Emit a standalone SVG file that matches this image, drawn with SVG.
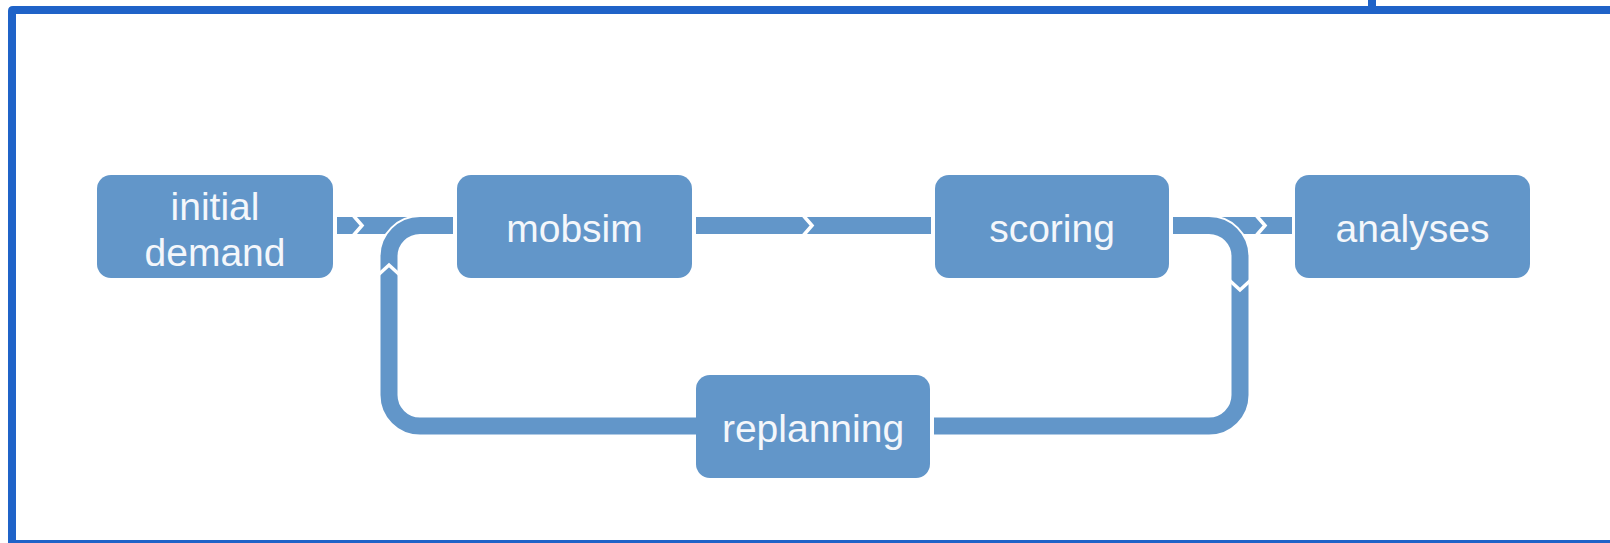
<svg xmlns="http://www.w3.org/2000/svg" width="1610" height="543" viewBox="0 0 1610 543">
<style>
.node{fill:#6296C9}
.lbl{fill:#F4F7FB;font-family:"Liberation Sans",Arial,sans-serif;font-size:39px;text-anchor:middle}
.band{fill:none;stroke:#6296C9;stroke-width:17;stroke-linecap:butt}
.halo{fill:none;stroke:#ffffff;stroke-width:21;stroke-linecap:butt}
.gap{fill:none;stroke:#ffffff;stroke-width:3.5;stroke-linejoin:miter;stroke-miterlimit:10}
.frame{fill:#1F63C8}
</style>
<rect width="1610" height="543" fill="#ffffff"/>
<g id="frame">
<path class="frame" d="M8,543 V11 Q8,6 13,6 H1610 V14 H16 V543 Z"/>
<rect class="frame" x="1368" y="0" width="8" height="7"/>
<rect class="frame" x="16" y="540" width="1594" height="3"/>
</g>
<g id="connectors">
<path class="band" d="M337,225.5 H430"/>
<path class="band" d="M1215,225.5 H1292"/>
<path class="band" d="M696,225.5 H931"/>
<path class="halo" d="M696,426 H420 A31,31 0 0 1 389,395 V256.5 A31,31 0 0 1 420,225.5 H453"/>
<path class="halo" d="M1173,225.5 H1209 A31,31 0 0 1 1240,256.5 V395 A31,31 0 0 1 1209,426 H934"/>
<path class="band" d="M696,426 H420 A31,31 0 0 1 389,395 V256.5 A31,31 0 0 1 420,225.5 H453"/>
<path class="band" d="M1173,225.5 H1209 A31,31 0 0 1 1240,256.5 V395 A31,31 0 0 1 1209,426 H934"/>
<polyline class="gap" points="352,214 362,225.5 352,237"/>
<polyline class="gap" points="802,214 812,225.5 802,237"/>
<polyline class="gap" points="1255,214 1265,225.5 1255,237"/>
<polyline class="gap" points="377,276 389,265 401,276"/>
<polyline class="gap" points="1228,279 1240,290 1252,279"/>
</g>
<g id="initial-demand">
<rect class="node" x="97" y="175" width="236" height="103" rx="14"/>
<text class="lbl" x="215" y="220">initial</text>
<text class="lbl" x="215" y="266">demand</text>
</g>
<g id="mobsim">
<rect class="node" x="457" y="175" width="235" height="103" rx="14"/>
<text class="lbl" x="574.5" y="242">mobsim</text>
</g>
<g id="scoring">
<rect class="node" x="935" y="175" width="234" height="103" rx="14"/>
<text class="lbl" x="1052" y="242">scoring</text>
</g>
<g id="analyses">
<rect class="node" x="1295" y="175" width="235" height="103" rx="14"/>
<text class="lbl" x="1412.5" y="242">analyses</text>
</g>
<g id="replanning">
<rect class="node" x="696" y="375" width="234" height="103" rx="14"/>
<text class="lbl" x="813" y="442">replanning</text>
</g>
</svg>
